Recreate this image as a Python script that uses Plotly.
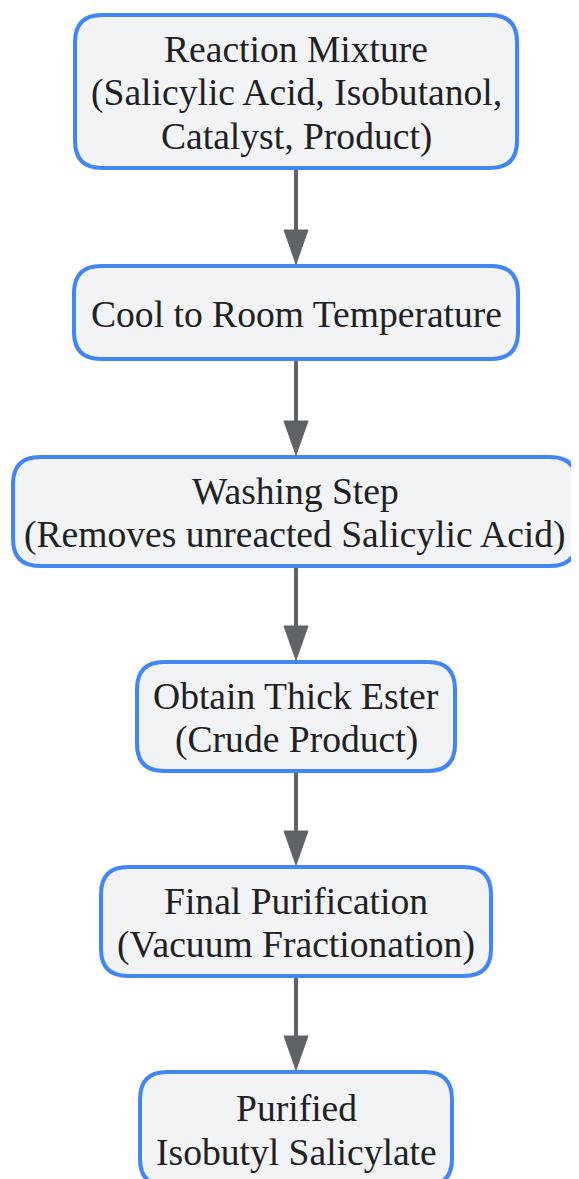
import plotly.graph_objects as go

# Flowchart content
steps = [
    ["Reaction Mixture", "(Salicylic Acid, Isobutanol,", "Catalyst, Product)"],
    ["Cool to Room Temperature"],
    ["Washing Step", "(Removes unreacted Salicylic Acid)"],
    ["Obtain Thick Ester", "(Crude Product)"],
    ["Final Purification", "(Vacuum Fractionation)"],
    ["Purified", "Isobutyl Salicylate"],
]
edges = [(0, 1), (1, 2), (2, 3), (3, 4), (4, 5)]

# Layout geometry (pixel-like coordinate system)
box_x0 = [75, 74, 13, 137, 101, 140]
box_x1 = [517, 518, 577, 455, 491, 452]
box_y0 = [15, 266, 457, 662, 867, 1072]
box_y1 = [168, 359, 566, 771, 976, 1186]

W, H = 579, 1179
OFF = 8  # page body margin compensation
R = 27
LINE_H = 43.5
FILL = "#F1F3F4"
BORDER = "#4285F4"
ARROW = "#5F6368"
TEXT = "#202124"

def rrect(x0, y0, x1, y1, r):
    return (f"M {x0+r},{y0} L {x1-r},{y0} Q {x1},{y0} {x1},{y0+r} "
            f"L {x1},{y1-r} Q {x1},{y1} {x1-r},{y1} L {x0+r},{y1} "
            f"Q {x0},{y1} {x0},{y1-r} L {x0},{y0+r} Q {x0},{y0} {x0+r},{y0} Z")

shapes = []
annotations = []
for i, lines in enumerate(steps):
    x0, x1, y0, y1 = box_x0[i], box_x1[i], box_y0[i], box_y1[i]
    shapes.append(dict(type="path", xref="x", yref="y",
                       path=rrect(x0, y0, x1, y1, R),
                       fillcolor=FILL, line=dict(color=BORDER, width=4),
                       layer="above"))
    cy = (y0 + y1) / 2 + 1.5
    n = len(lines)
    for k, line in enumerate(lines):
        annotations.append(dict(x=(x0 + x1) / 2, y=cy + (k - (n - 1) / 2) * LINE_H,
                                xref="x", yref="y", text=line, showarrow=False,
                                xanchor="center", yanchor="middle",
                                font=dict(family="Liberation Serif", size=37.6, color=TEXT)))

head_len, head_w = 34, 12
for a, b in edges:
    cx = 296
    ys = box_y1[a] + 2
    ye = box_y0[b] - 2
    shapes.append(dict(type="line", xref="x", yref="y", x0=cx, x1=cx,
                       y0=ys, y1=ye - head_len + 2,
                       line=dict(color=ARROW, width=4)))
    shapes.append(dict(type="path", xref="x", yref="y",
                       path=f"M {cx-head_w},{ye-head_len} L {cx+head_w},{ye-head_len} L {cx},{ye} Z",
                       fillcolor=ARROW, line=dict(color=ARROW, width=1)))

fig = go.Figure()
fig.add_trace(go.Scatter(x=[OFF, W], y=[OFF, H], mode="markers",
                         marker=dict(opacity=0), hoverinfo="skip", showlegend=False))
fig.update_layout(
    width=W - OFF, height=H - OFF,
    margin=dict(l=0, r=0, t=0, b=0),
    paper_bgcolor="white", plot_bgcolor="white",
    xaxis=dict(range=[OFF, W], visible=False, fixedrange=True),
    yaxis=dict(range=[H, OFF], visible=False, fixedrange=True),
    shapes=shapes, annotations=annotations, showlegend=False,
)
fig.write_html("out.html")
